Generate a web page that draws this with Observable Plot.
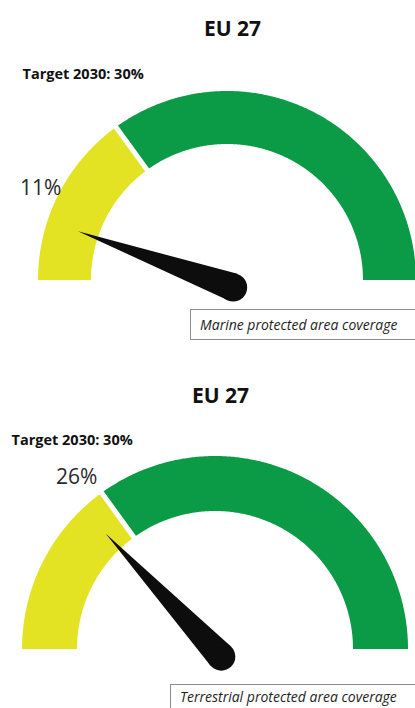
<!DOCTYPE html>
<html><head><meta charset="utf-8">
<script src="https://cdn.jsdelivr.net/npm/d3@7"></script>
<script src="https://cdn.jsdelivr.net/npm/@observablehq/plot@0.6"></script>
<style>
body{margin:0;background:#fff;font-family:"Open Sans",sans-serif;}
#wrap{position:relative;width:415px;height:708px;overflow:hidden;background:#fff;}
.g{position:absolute;left:0;}
.caption{position:absolute;border:1px solid #8c8c8c;font-style:italic;font-size:14px;color:#1e1e1e;padding-left:9px;box-sizing:border-box;white-space:nowrap;font-family:"Open Sans",sans-serif;}
</style></head><body><div id="wrap"></div>
<script>
// ---- data ----
const titles = ["EU 27", "EU 27"];
const targetLabels = ["Target 2030: 30%", "Target 2030: 30%"];
const values = [11, 26];          // current coverage, %
const target = 30;                // 2030 target, %
const captions = ["Marine protected area coverage", "Terrestrial protected area coverage"];
const bandColors = ["#e3e324", "#0b9a45"];

// ---- layout (pixels) ----
const layouts = [
  {top: 0,   height: 305, cx: 227, cy: 280, R: 189, inner: 136/189, titleX: 232, titleY: 35, targetX: 22, targetY: 78,
   cap: {left: 190, top: 309, width: 240, height: 31, lh: 29}},
  {top: 345, height: 337, cx: 215, cy: 304, R: 193, inner: 138/193, titleX: 220, titleY: 57, targetX: 11, targetY: 99,
   cap: {left: 170, top: 684, width: 260, height: 30, lh: 24}}
];

const ang = p => Math.PI * (1 - p / 100);
const wrap = document.getElementById("wrap");

values.forEach((v, i) => {
  const L = layouts[i];
  const ri = L.inner;
  const bands = [[0, target], [target, 100]];
  const bandMarks = bands.map(([a, b], k) => {
    const pts = d3.range(a, b, 0.25).concat([b]);
    return Plot.area(pts, {
      x1: p => ri * Math.cos(ang(p)), y1: p => ri * Math.sin(ang(p)),
      x2: p => Math.cos(ang(p)), y2: p => Math.sin(ang(p)),
      fill: bandColors[k], stroke: "none"
    });
  });
  // needle
  const hub = {x: 0.03, y: -0.037};
  const hr = 14 / L.R;
  const len = 0.87;
  const t = ang(v);
  const px = -Math.sin(t), py = Math.cos(t);
  const needle = [
    {x1: hub.x + px * hr, y1: hub.y + py * hr, x2: hub.x - px * hr, y2: hub.y - py * hr},
    {x1: hub.x + Math.cos(t) * len, y1: hub.y + Math.sin(t) * len, x2: hub.x + Math.cos(t) * len, y2: hub.y + Math.sin(t) * len}
  ];
  const chart = Plot.plot({
    width: 415, height: L.height,
    margin: 0,
    x: {domain: [-1, 1], range: [L.cx - L.R, L.cx + L.R], axis: null},
    y: {domain: [0, 1], range: [L.cy, L.cy - L.R], axis: null},
    style: {background: "#fff", fontFamily: "Open Sans, sans-serif", overflow: "hidden"},
    marks: [
      ...bandMarks,
      Plot.link([target], {
        x1: p => (ri - 0.05) * Math.cos(ang(p)), y1: p => (ri - 0.05) * Math.sin(ang(p)),
        x2: p => 1.05 * Math.cos(ang(p)), y2: p => 1.05 * Math.sin(ang(p)),
        stroke: "#fff", strokeWidth: 5
      }),
      Plot.area(needle, {x1: "x1", y1: "y1", x2: "x2", y2: "y2", fill: "#0d0d0d"}),
      Plot.dot([hub], {x: "x", y: "y", r: 14, fill: "#0d0d0d"}),
      Plot.text([v], {
        x: d => 1.05 * Math.cos(ang(d)), y: d => 1.05 * Math.sin(ang(d)), dy: -25,
        text: d => d + "%", fontSize: 21, fill: "#2a2a2a", textAnchor: "middle", fontFamily: "Open Sans"
      }),
      Plot.text([titles[i]], {
        frameAnchor: "top-left", dx: L.titleX, dy: L.titleY, textAnchor: "middle", lineAnchor: "bottom",
        fontSize: 21, fontWeight: "bold", fill: "#111", fontFamily: "Open Sans"
      }),
      Plot.text([targetLabels[i]], {
        frameAnchor: "top-left", dx: L.targetX, dy: L.targetY, textAnchor: "start", lineAnchor: "bottom",
        fontSize: 14.5, fontWeight: "bold", fill: "#111", fontFamily: "Open Sans"
      })
    ]
  });
  const box = document.createElement("div");
  box.className = "g";
  box.style.top = L.top + "px";
  box.appendChild(chart);
  wrap.appendChild(box);

  const cap = document.createElement("div");
  cap.className = "caption";
  Object.assign(cap.style, {left: L.cap.left + "px", top: L.cap.top + "px", width: L.cap.width + "px",
    height: L.cap.height + "px", lineHeight: L.cap.lh + "px"});
  cap.textContent = captions[i];
  wrap.appendChild(cap);
});
</script>
</body></html>
